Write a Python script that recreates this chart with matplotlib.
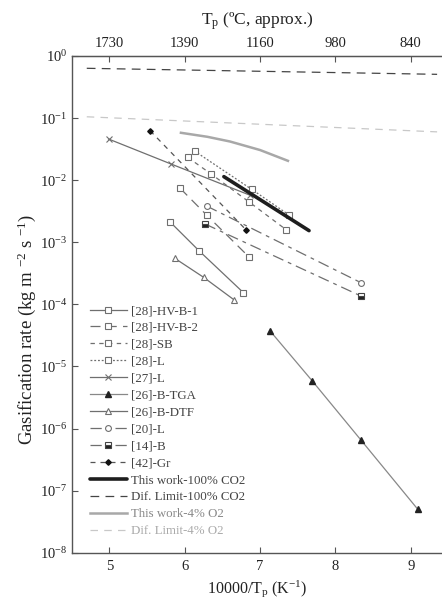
import matplotlib
matplotlib.use("Agg")
import matplotlib.pyplot as plt
from matplotlib.ticker import FixedLocator, FixedFormatter
import numpy as np

plt.rcParams['font.family'] = ['Liberation Serif', 'DejaVu Serif']
plt.rcParams['mathtext.fontset'] = 'custom'
plt.rcParams['mathtext.rm'] = 'Liberation Serif'
plt.rcParams['mathtext.it'] = 'Liberation Serif:italic'
plt.rcParams['mathtext.bf'] = 'Liberation Serif:bold'

# ---- data (x = 10000/Tp, y = gasification rate) ----
hvb1_x = [5.81, 6.19, 6.78]
hvb1_y = [2.1e-3, 7.3e-4, 1.54e-4]

hvb2_x = [5.94, 6.29, 6.85]
hvb2_y = [7.4e-3, 2.75e-3, 5.85e-4]

sb_x = [6.04, 6.35, 6.85, 7.35]
sb_y = [2.33e-2, 1.26e-2, 4.5e-3, 1.58e-3]

l28_x = [6.13, 6.89, 7.385]
l28_y = [2.95e-2, 7.1e-3, 2.75e-3]

l27_x = [4.99, 5.82, 6.87]
l27_y = [4.6e-2, 1.82e-2, 5.7e-3]

tga_x = [7.13, 7.69, 8.34, 9.09]
tga_y = [3.77e-5, 5.9e-6, 6.5e-7, 5.06e-8]

dtf_x = [5.87, 6.25, 6.66]
dtf_y = [5.5e-4, 2.73e-4, 1.17e-4]

l20_x = [6.29, 8.34]
l20_y = [3.84e-3, 2.23e-4]

b14_x = [6.27, 8.34]
b14_y = [1.97e-3, 1.36e-4]

gr_x = [5.54, 6.815]
gr_y = [6.27e-2, 1.58e-3]

co2_x = [6.52, 7.65]
co2_y = [1.14e-2, 1.54e-3]

diflim_co2_x = [4.70, 9.35]
diflim_co2_y = [0.634, 0.507]

o2_x = [5.95, 6.30, 6.60, 7.00, 7.37]
o2_y = [5.8e-2, 5.0e-2, 4.2e-2, 3.06e-2, 2.05e-2]

diflim_o2_x = [4.70, 9.35]
diflim_o2_y = [0.105, 0.060]

bottom_ticks = [5, 6, 7, 8, 9]
top_tick_labels = ['1730', '1390', '1160', '980', '840']
y_decades = [0, -1, -2, -3, -4, -5, -6, -7, -8]

fig = plt.figure(figsize=(4.42, 6.01), dpi=100)
ax = fig.add_axes([0.1622, 0.0804, 1.0 - 0.1622, 0.9068 - 0.0804])

g = '#6f6f6f'
ms = 4.2
ax.plot(hvb1_x, hvb1_y, color=g, lw=0.9, marker='s', ms=ms, mfc='white', mec=g, mew=0.8, label='[28]-HV-B-1')
ax.plot(hvb2_x, hvb2_y, color=g, lw=0.9, dashes=(8, 5), marker='s', ms=ms, mfc='white', mec=g, mew=0.8, label='[28]-HV-B-2')
ax.plot(sb_x, sb_y, color=g, lw=0.9, dashes=(3.5, 3.5), marker='s', ms=ms, mfc='white', mec=g, mew=0.8, label='[28]-SB')
ax.plot(l28_x, l28_y, color=g, lw=0.9, dashes=(1.5, 1.5), marker='s', ms=ms, mfc='white', mec=g, mew=0.8, label='[28]-L')
ax.plot(l27_x, l27_y, color=g, lw=0.9, marker='x', ms=4, mec=g, mew=0.8, label='[27]-L')
ax.plot(tga_x, tga_y, color='#888888', lw=0.9, marker='^', ms=4, mfc='#222222', mec='#222222', label='[26]-B-TGA')
ax.plot(dtf_x, dtf_y, color=g, lw=0.9, marker='^', ms=ms, mfc='white', mec=g, mew=0.8, label='[26]-B-DTF')
ax.plot(l20_x, l20_y, color=g, lw=0.9, dashes=(9, 4, 3, 4), marker='o', ms=ms, mfc='white', mec=g, mew=0.8, label='[20]-L')
ax.plot(b14_x, b14_y, color=g, lw=0.9, dashes=(9, 4, 3, 4), marker='s', ms=ms, fillstyle='bottom', mfc='#222222', mfcalt='white', mec='#444444', mew=0.8, label='[14]-B')
ax.plot(gr_x, gr_y, color='#555555', lw=0.9, dashes=(4, 4), marker='D', ms=2.8, mfc='#111111', mec='#111111', label='[42]-Gr')
ax.plot(co2_x, co2_y, color='#1e1e1e', lw=2.6, solid_capstyle='round', label='This work-100% CO2')
ax.plot(diflim_co2_x, diflim_co2_y, color='#444444', lw=0.9, dashes=(7, 5), label='Dif. Limit-100% CO2')
ax.plot(o2_x, o2_y, color='#a8a8a8', lw=1.8, label='This work-4% O2')
ax.plot(diflim_o2_x, diflim_o2_y, color='#c8c8c8', lw=0.9, dashes=(6, 5), label='Dif. Limit-4% O2')

ax.set_yscale('log')
ax.set_xlim(4.5, 9.415)
ax.set_ylim(1e-8, 1e0)

ax.yaxis.set_major_locator(FixedLocator([10.0 ** d for d in y_decades]))
ax.yaxis.set_major_formatter(FixedFormatter([r'$10^{%d}$' % d for d in y_decades]))
ax.yaxis.set_minor_locator(FixedLocator([]))
ax.set_xticks(bottom_ticks)
ax.set_xticklabels([str(t) for t in bottom_ticks])

for s in ax.spines.values():
    s.set_color('#555555')
    s.set_linewidth(1.0)
ax.spines['right'].set_visible(False)

ax.tick_params(axis='both', which='major', direction='in', length=4, width=0.8,
               color='#555555', labelsize=10.5, labelcolor='#222222', pad=5)
ax.tick_params(axis='y', pad=3)

top = ax.secondary_xaxis('top')
top.set_xticks(bottom_ticks)
top.set_xticklabels(top_tick_labels)
top.tick_params(direction='in', length=4, width=0.8, color='#555555', labelsize=10.5, labelcolor='#222222', pad=4)
top.spines['top'].set_color('#555555')
top.set_xlabel(r'T$_\mathrm{p}$ (ºC, approx.)', fontsize=12.5, color='#222222', labelpad=9)

ax.set_xlabel(r'10000/T$_\mathrm{p}$ (K$^{\mathrm{-1}}$)', fontsize=11.5, color='#222222', labelpad=4)
ax.set_ylabel(r'Gasification rate (kg m $^{\mathrm{-2}}$ s $^{\mathrm{-1}}$)', fontsize=13.5, color='#222222')
ax.yaxis.set_label_coords(-0.091, 0.449)

leg = ax.legend(loc='upper left', bbox_to_anchor=(90 / 442, 1 - 305 / 601), bbox_transform=fig.transFigure,
                frameon=False, fontsize=9.3, labelspacing=0.38, handlelength=2.84, handletextpad=0.31,
                borderpad=0, borderaxespad=0, numpoints=1)
for t, c in zip(leg.get_texts(), ['#444444'] * 12 + ['#888888', '#aaaaaa']):
    t.set_color(c)

fig.savefig('out.png', dpi=100)
